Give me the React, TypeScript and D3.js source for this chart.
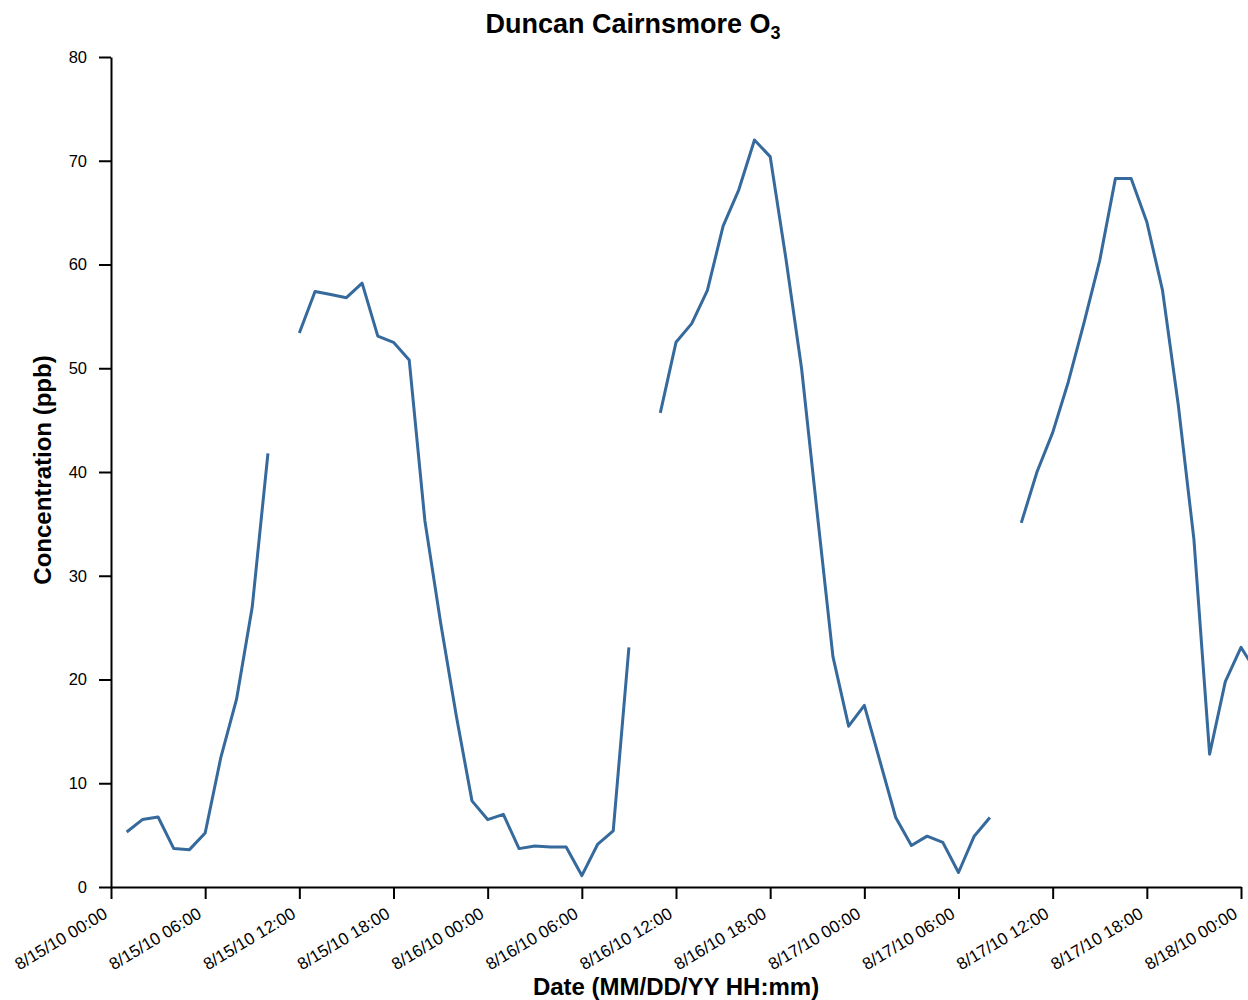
import React, { useEffect, useRef } from "react";
import * as d3 from "d3";

// Hourly O3 readings starting 8/15/10 00:00 (UTC-based clock), null = missing
const startTime = Date.UTC(2010, 7, 15, 0, 0);
const endTime = Date.UTC(2010, 7, 18, 0, 0);
const o3Values: (number | null)[] = [
  null, 5.3, 6.5, 6.75, 3.7, 3.6, 5.2, 12.5, 18.1, 27.0, 41.8, null,
  53.4, 57.4, 57.1, 56.8, 58.2, 53.1, 52.5, 50.8, 35.3, 25.5, 16.5, 8.3,
  6.5, 7.0, 3.7, 3.95, 3.85, 3.85, 1.1, 4.1, 5.4, 23.1, null, 45.7,
  52.5, 54.3, 57.5, 63.7, 67.2, 72.0, 70.4, 60.6, 50.0, 36.0, 22.2, 15.5,
  17.5, 12.1, 6.7, 4.0, 4.9, 4.3, 1.4, 4.9, 6.7, null, 35.1, 40.0,
  43.8, 48.7, 54.4, 60.4, 68.3, 68.3, 64.1, 57.5, 46.5, 33.5, 12.8, 19.8,
  23.1, 20.7,
];
const yTicks = [0, 10, 20, 30, 40, 50, 60, 70, 80];
const titleMain = "Duncan Cairnsmore O";
const titleSub = "3";
const xTitle = "Date (MM/DD/YY HH:mm)";
const yTitle = "Concentration (ppb)";

const W = 1248;
const H = 1000;
const M = { left: 111, right: 7, top: 57, bottom: 113 };
const FONT = "'Liberation Sans', Arial, Helvetica, sans-serif";

export default function App() {
  const ref = useRef<SVGSVGElement>(null);

  useEffect(() => {
    const svg = d3.select(ref.current);
    svg.selectAll("*").remove();

    const data = o3Values.map((v, i) => ({ t: new Date(startTime + i * 3600000), v }));

    const x = d3
      .scaleUtc()
      .domain([new Date(startTime), new Date(endTime)])
      .range([M.left, W - M.right]);
    const y = d3.scaleLinear().domain([0, 80]).range([H - M.bottom, M.top]);

    const fmt = d3.utcFormat("%-m/%d/%y %H:%M");

    // X axis
    const gx = svg
      .append("g")
      .attr("transform", `translate(0,${H - M.bottom})`)
      .call(
        d3
          .axisBottom(x)
          .ticks(d3.utcHour.every(6))
          .tickFormat((d: any) => fmt(d))
          .tickSize(12)
          .tickSizeOuter(0)
      );
    gx.select(".domain").attr("stroke", "#000").attr("stroke-width", 2);
    gx.selectAll(".tick line").attr("stroke", "#000").attr("stroke-width", 2);
    gx.selectAll(".tick text")
      .attr("font-family", FONT)
      .attr("font-size", 17)
      .attr("fill", "#000")
      .attr("text-anchor", "end")
      .attr("dy", null)
      .attr("y", 0)
      .attr("transform", "translate(-3,30) rotate(-31)");

    // Y axis
    const gy = svg
      .append("g")
      .attr("transform", `translate(${M.left},0)`)
      .call(d3.axisLeft(y).tickValues(yTicks).tickSize(12).tickPadding(12).tickSizeOuter(0));
    gy.select(".domain").attr("stroke", "#000").attr("stroke-width", 2);
    gy.selectAll(".tick line").attr("stroke", "#000").attr("stroke-width", 2);
    gy.selectAll(".tick text")
      .attr("font-family", FONT)
      .attr("font-size", 16.5)
      .attr("fill", "#000");

    // Line
    const line = d3
      .line<{ t: Date; v: number | null }>()
      .defined((d) => d.v != null)
      .x((d) => x(d.t))
      .y((d) => y(d.v as number));
    svg
      .append("path")
      .datum(data)
      .attr("fill", "none")
      .attr("stroke", "#36699c")
      .attr("stroke-width", 3)
      .attr("stroke-linejoin", "round")
      .attr("d", line as any);

    // Title
    const title = svg
      .append("text")
      .attr("x", 633)
      .attr("y", 33)
      .attr("text-anchor", "middle")
      .attr("font-family", FONT)
      .attr("font-weight", "bold")
      .attr("font-size", 27)
      .attr("fill", "#000");
    title.append("tspan").text(titleMain);
    title.append("tspan").attr("font-size", 18).attr("dy", 6).text(titleSub);

    // Axis titles
    svg
      .append("text")
      .attr("x", (M.left + W - M.right) / 2)
      .attr("y", 995)
      .attr("text-anchor", "middle")
      .attr("font-family", FONT)
      .attr("font-weight", "bold")
      .attr("font-size", 24)
      .attr("fill", "#000")
      .text(xTitle);
    svg
      .append("text")
      .attr("transform", `translate(51,${470}) rotate(-90)`)
      .attr("text-anchor", "middle")
      .attr("font-family", FONT)
      .attr("font-weight", "bold")
      .attr("font-size", 24)
      .attr("fill", "#000")
      .text(yTitle);
  }, []);

  return (
    <svg
      ref={ref}
      width={W}
      height={H}
      style={{ position: "absolute", left: 0, top: 0, display: "block", background: "#fff" }}
    />
  );
}
